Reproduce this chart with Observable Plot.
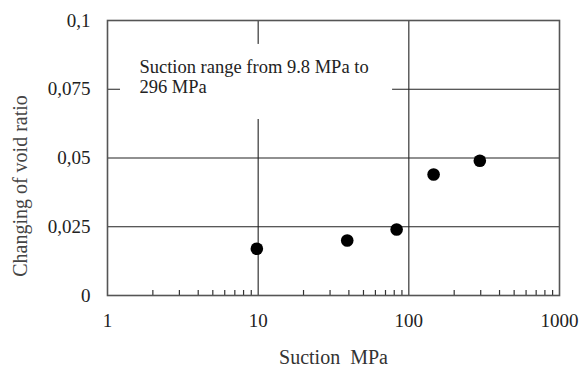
<!DOCTYPE html>
<html>
<head>
<meta charset="utf-8">
<script src="https://cdn.jsdelivr.net/npm/d3@7"></script>
<script src="https://cdn.jsdelivr.net/npm/@observablehq/plot@0.6"></script>
<style>
  html, body { margin: 0; padding: 0; background: #fff; }
  svg text { font-family: "Liberation Serif", "Times New Roman", serif; }
</style>
</head>
<body>
<div id="chart"></div>
<script>
// Data
const suction = [9.8, 39, 83, 146, 296];           // MPa
const voidChange = [0.017, 0.020, 0.024, 0.044, 0.049];

const xTicks = [1, 10, 100, 1000];
const xGrid = [10, 100];
const xMinor = [2,3,4,5,6,7,8,9,20,30,40,50,60,70,80,90,200,300,400,500,600,700,800,900];
const yTicks = [0, 0.025, 0.05, 0.075, 0.1];
const yGrid = [0.025, 0.05, 0.075];

const noteText = ["Suction range from 9.8 MPa to\n296 MPa"];
const noteBox = [{x1: 1.22, x2: 78, y1: 0.064, y2: 0.0913}];
const noteAnchor = [{x: 1.63, y: 0.0862}];

const xLabel = "Suction\u00a0 MPa";
const yLabel = "Changing of void ratio";

const points = suction.map((s, i) => ({s, v: voidChange[i]}));
const fmtY = d => String(d).replace(".", ",");
const serif = "Liberation Serif, Times New Roman, serif";

const chart = Plot.plot({
  width: 582,
  height: 372,
  marginLeft: 107,
  marginRight: 23,
  marginTop: 20,
  marginBottom: 77,
  style: {fontFamily: serif, fontSize: "19px", background: "#fff", color: "#222"},
  x: {type: "log", domain: [1, 1000]},
  y: {domain: [0, 0.1]},
  marks: [
    Plot.ruleX(xGrid, {stroke: "#222", strokeWidth: 1.1}),
    Plot.ruleY(yGrid, {stroke: "#222", strokeWidth: 1.1}),
    Plot.rect(noteBox, {x1: "x1", x2: "x2", y1: "y1", y2: "y2", fill: "#fff"}),
    Plot.text(noteText, {x: () => noteAnchor[0].x, y: () => noteAnchor[0].y, text: d => d,
      textAnchor: "start", lineAnchor: "top", lineHeight: 1.08, fontSize: 18.5, fontFamily: serif, fill: "#222", letterSpacing: 0.2}),
    Plot.tickX(xMinor, {x: d => d, stroke: "#333", strokeWidth: 1.2, insetTop: 270}),
    Plot.dot(points, {x: "s", y: "v", r: 6.3, fill: "#000", stroke: null}),
    Plot.frame({stroke: "#555", strokeWidth: 1.6}),
    Plot.axisX({ticks: xTicks, tickFormat: d => String(d), tickSize: 0, tickPadding: 18, label: null, fill: "#222", fontFamily: serif}),
    Plot.axisY({ticks: yTicks, tickFormat: fmtY, tickSize: 0, tickPadding: 17, label: null, fill: "#222", fontFamily: serif, letterSpacing: 0.6}),
    Plot.text([xLabel], {frameAnchor: "bottom", dy: 62, text: d => d, textAnchor: "middle", lineAnchor: "middle", fontSize: 20, fontFamily: serif, fill: "#333", letterSpacing: 1}),
    Plot.text([yLabel], {frameAnchor: "left", dx: -87, dy: 28, rotate: -90, text: d => d, textAnchor: "middle", lineAnchor: "middle", fontSize: 20, fontFamily: serif, fill: "#444", letterSpacing: 0.6})
  ]
});
document.getElementById("chart").appendChild(chart);
</script>
</body>
</html>
